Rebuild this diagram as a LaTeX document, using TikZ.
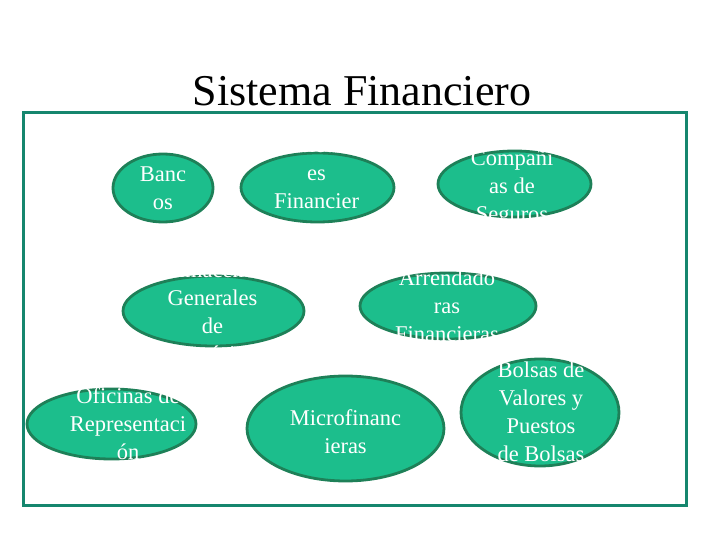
\documentclass[tikz,border=0pt]{standalone}
\usepackage{fontspec}
\setmainfont{Liberation Serif}
\usetikzlibrary{shapes.geometric}
\definecolor{framec}{RGB}{22,134,110}
\definecolor{ellfill}{RGB}{28,190,140}
\definecolor{elldraw}{RGB}{30,128,88}
\newcommand{\elltext}[1]{\begin{tabular}[t]{@{}c@{}}#1\end{tabular}}
\begin{document}
\begin{tikzpicture}[x=1pt,y=-1pt,
  ell/.style={ellipse, draw=elldraw, fill=ellfill, line width=2.8pt, inner sep=0pt},
  lbl/.style={anchor=base, text=white, inner sep=0pt, font=\rmfamily\fontsize{22.5}{28}\selectfont},
  framebox/.style={draw=framec, line width=3pt, inner sep=0pt}
]
\useasboundingbox (0,0) rectangle (720,540);
% title
\node[anchor=base, inner sep=0pt, font=\rmfamily\fontsize{44}{50}\selectfont] (title) at (362,106) {Sistema Financiero};
% frame
\node[framebox, minimum width=663pt, minimum height=393pt] (frame) at (355,309) {};
% ellipses
\node[ell, minimum width=100pt, minimum height=68pt] (bancos) at (163,188) {};
\node[ell, minimum width=153pt, minimum height=69pt] (sociedades) at (317.5,187.5) {};
\node[ell, minimum width=153pt, minimum height=66pt] (seguros) at (514.5,184) {};
\node[ell, minimum width=181pt, minimum height=70pt] (almacenes) at (213.5,311) {};
\node[ell, minimum width=176pt, minimum height=66pt] (arrend) at (448,306) {};
\node[ell, minimum width=169pt, minimum height=70pt] (oficinas) at (111.5,424) {};
\node[ell, minimum width=197pt, minimum height=105pt] (micro) at (345.5,428.5) {};
\node[ell, minimum width=158pt, minimum height=107pt] (bolsas) at (540,412.5) {};
% texts
\node[lbl] (tbancos) at (163,182) {\elltext{Banc\\os}};
\node[lbl] (tsociedades) at (316.5,153) {\elltext{Sociedad\\es\\Financier\\as}};
\node[lbl] (tseguros) at (512,166) {\elltext{Compañí\\as de\\Seguros}};
\node[lbl] (talmacenes) at (212.5,277) {\elltext{Almacenes\\Generales\\de\\Depósito}};
\node[lbl] (tarrend) at (447,285) {\elltext{Arrendado\\ras\\Financieras}};
\node[lbl] (toficinas) at (128,403) {\elltext{Oficinas de\\Representaci\\ón}};
\node[lbl] (tmicro) at (345.5,425) {\elltext{Microfinanc\\ieras}};
\node[lbl] (tbolsas) at (541,377) {\elltext{Bolsas de\\Valores y\\Puestos\\de Bolsas}};
\end{tikzpicture}
\end{document}
